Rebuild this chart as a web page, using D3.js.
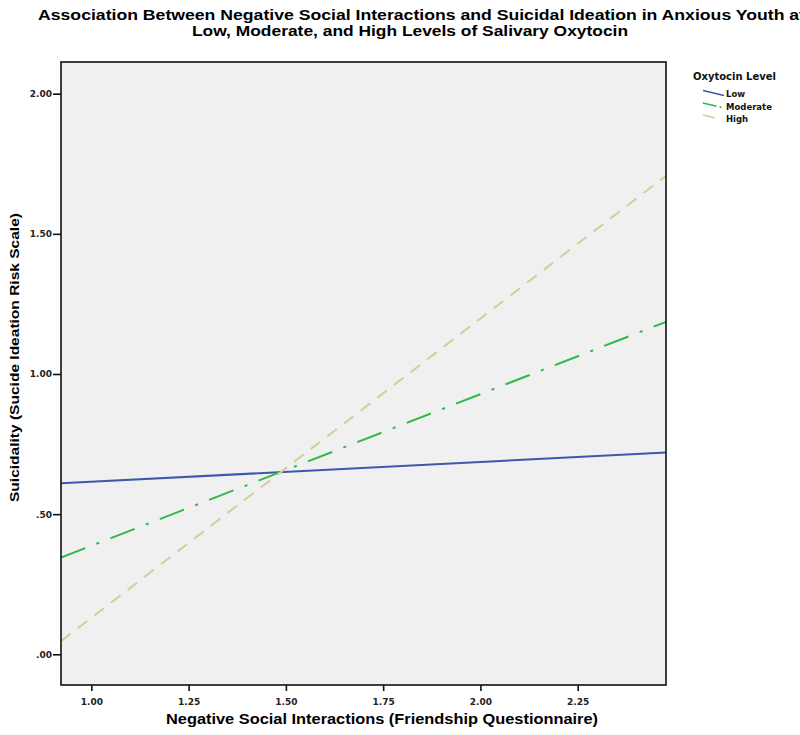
<!DOCTYPE html>
<html>
<head>
<meta charset="utf-8">
<script src="https://cdn.jsdelivr.net/npm/d3@7"></script>
<style>
  html, body { margin: 0; padding: 0; background: #fff; }
  svg { display: block; }
</style>
</head>
<body>
<svg id="chart" width="800" height="735"></svg>
<script>
// ---- data ----
const xDomain = [0.922, 2.477];
const yDomain = [-0.1095, 2.113];
const xTicks = [1.00, 1.25, 1.50, 1.75, 2.00, 2.25];
const yTicks = [0.00, 0.50, 1.00, 1.50, 2.00];
const xEnds = [0.922, 2.477];
const seriesNames = ["Low", "Moderate", "High"];
const lowValues = [0.61, 0.72];
const moderateValues = [0.345, 1.186];
const highValues = [0.047, 1.707];
const titleLines = [
  "Association Between Negative Social Interactions and Suicidal Ideation in Anxious Youth at",
  "Low, Moderate, and High Levels of Salivary Oxytocin"
];
const xTitle = "Negative Social Interactions (Friendship Questionnaire)";
const yTitle = "Suicidality (Sucide Ideation Risk Scale)";
const legendTitle = "Oxytocin Level";

// ---- layout ----
const svg = d3.select("#chart");
const L = 61, R = 666, T = 62, B = 685;
const x = d3.scaleLinear().domain(xDomain).range([L, R]);
const y = d3.scaleLinear().domain(yDomain).range([B, T]);

const colors = ["#3E58AC", "#2EB848", "#D3CE97"];
const dashes = [null, "26,12,3,12", "12,9"];
const series = [lowValues, moderateValues, highValues];

const fmt = d => {
  const s = d3.format(".2f")(d);
  return s.startsWith("0") ? s.slice(1) : s;
};

// plot background
svg.append("rect").attr("x", L).attr("y", T).attr("width", R - L).attr("height", B - T)
  .attr("fill", "#F0F0F0");

// lines
const clip = svg.append("clipPath").attr("id", "plotclip")
  .append("rect").attr("x", L).attr("y", T).attr("width", R - L).attr("height", B - T);
const line = d3.line().x(d => x(d[0])).y(d => y(d[1]));
const g = svg.append("g").attr("clip-path", "url(#plotclip)");
series.forEach((vals, i) => {
  g.append("path")
    .datum(xEnds.map((xv, j) => [xv, vals[j]]))
    .attr("d", line)
    .attr("fill", "none")
    .attr("stroke", colors[i])
    .attr("stroke-width", 2)
    .attr("stroke-dasharray", dashes[i]);
});

// frame
svg.append("rect").attr("x", L).attr("y", T).attr("width", R - L).attr("height", B - T)
  .attr("fill", "none").attr("stroke", "#111").attr("stroke-width", 1.6);

// axes
const tickFont = "'DejaVu Sans', sans-serif";
const yAxis = svg.append("g").attr("transform", `translate(${L},0)`)
  .call(d3.axisLeft(y).tickValues(yTicks).tickFormat(fmt).tickSize(8).tickPadding(1));
const xAxis = svg.append("g").attr("transform", `translate(0,${B})`)
  .call(d3.axisBottom(x).tickValues(xTicks).tickFormat(fmt).tickSize(6).tickPadding(8));
[yAxis, xAxis].forEach(a => {
  a.select(".domain").remove();
  a.selectAll(".tick line").attr("stroke", "#111").attr("stroke-width", 1.6);
  a.selectAll(".tick text").attr("fill", "#222")
    .style("font-family", tickFont).style("font-weight", "bold").style("font-size", "9px");
});

// titles
const titleFont = "'Liberation Sans', Arial, sans-serif";
svg.append("text").attr("x", 38).attr("y", 20)
  .style("font-family", titleFont).style("font-weight", "bold").style("font-size", "15px")
  .attr("textLength", 767).attr("lengthAdjust", "spacingAndGlyphs")
  .text(titleLines[0]);
svg.append("text").attr("x", 192).attr("y", 35.5)
  .style("font-family", titleFont).style("font-weight", "bold").style("font-size", "15px")
  .attr("textLength", 436).attr("lengthAdjust", "spacingAndGlyphs")
  .text(titleLines[1]);

svg.append("text").attr("x", 166).attr("y", 724)
  .style("font-family", titleFont).style("font-weight", "bold").style("font-size", "14px")
  .attr("textLength", 432).attr("lengthAdjust", "spacingAndGlyphs")
  .text(xTitle);

svg.append("text").attr("transform", "translate(19,502) rotate(-90)")
  .style("font-family", titleFont).style("font-weight", "bold").style("font-size", "13px")
  .attr("textLength", 289).attr("lengthAdjust", "spacingAndGlyphs")
  .text(yTitle);

// legend
svg.append("text").attr("x", 693).attr("y", 80)
  .style("font-family", tickFont).style("font-weight", "bold").style("font-size", "10px")
  .attr("fill", "#111")
  .text(legendTitle);
const legBase = [97, 109.5, 121.5];
seriesNames.forEach((name, i) => {
  const by = legBase[i];
  svg.append("line")
    .attr("x1", 703).attr("y1", by - 6.5).attr("x2", 724).attr("y2", by - 1.5)
    .attr("stroke", colors[i]).attr("stroke-width", 1.5)
    .attr("stroke-dasharray", i === 0 ? null : (i === 1 ? "14,3,2,3" : "12,12"));
  svg.append("text").attr("x", 726).attr("y", by)
    .style("font-family", tickFont).style("font-weight", "bold").style("font-size", "8.5px")
    .attr("fill", "#111")
    .text(name);
});
</script>
</body>
</html>
